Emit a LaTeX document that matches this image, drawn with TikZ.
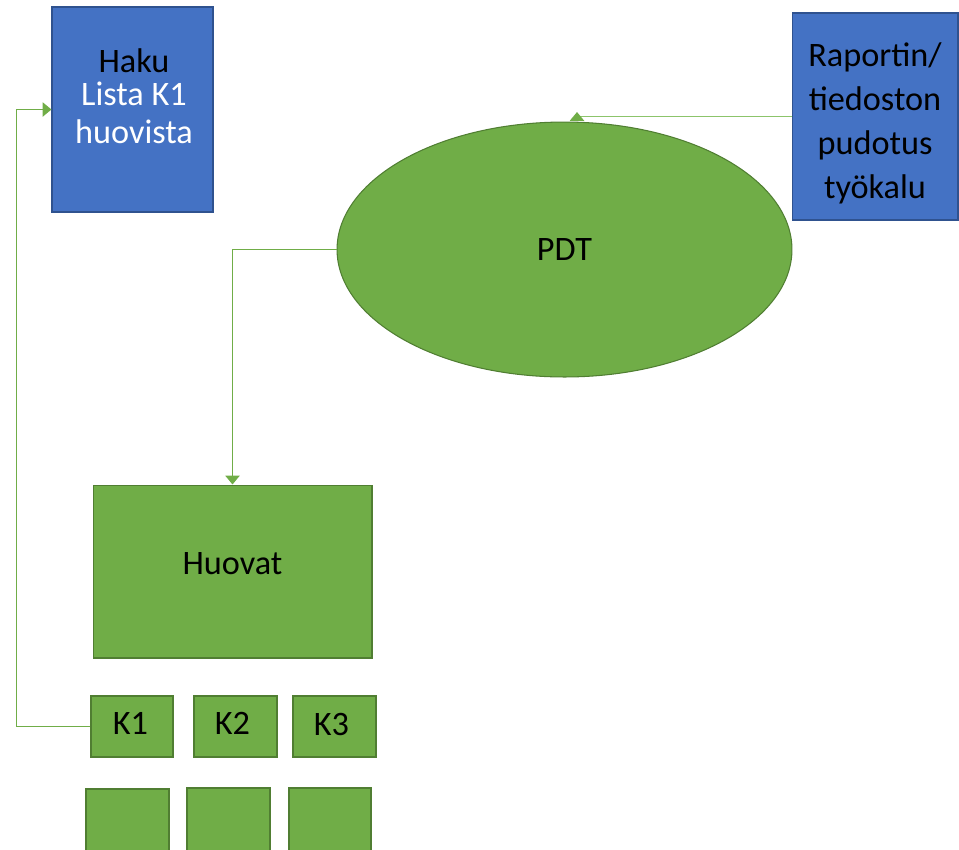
\documentclass[tikz,border=0pt]{standalone}
\usepackage{fontspec}
\setmainfont{Carlito}
\usetikzlibrary{arrows.meta,shapes.geometric}

\definecolor{boxblue}{HTML}{4472C4}
\definecolor{boxblueline}{HTML}{2F528F}
\definecolor{boxgreen}{HTML}{70AD47}
\definecolor{boxgreenline}{HTML}{507E32}
\definecolor{wiregreen}{HTML}{8CC46B}

\tikzset{
    bluebox/.style={draw=boxblueline, line width=0.6pt, fill=boxblue, rectangle, inner sep=0pt},
    greenbox/.style={draw=boxgreenline, line width=0.6pt, fill=boxgreen, rectangle, inner sep=0pt},
    wire/.style={draw=wiregreen, line width=1pt},
    link/.style={wire, -{Triangle[width=8pt,length=5pt]}, color=boxgreen}
}

\begin{document}
\begin{tikzpicture}[x=0.02cm, y=-0.02cm, font=\fontsize{19.5}{23.8}\selectfont]
        \clip (0,0) rectangle (959,849);
        \useasboundingbox (0,0) rectangle (959,849);

        % search box
        \node[bluebox, minimum width=3.22cm, minimum height=4.10cm] (haku) at (132.5,109.5) {};
        \node[align=center, text=white] (hakutext) at (134,96) {\textcolor{black}{Haku}\\[-5pt]Lista K1\\[-2pt]huovista};

        % drop tool box
        \node[bluebox, minimum width=3.32cm, minimum height=4.14cm,
              label={[yshift=-0.13cm, align=center, font=\fontsize{19.5}{25}\selectfont]center:Raportin/\\tiedoston\\pudotus\\työkalu}] (raportin) at (875,116.5) {};

        % central ellipse
        \node[greenbox, ellipse, minimum width=9.10cm, minimum height=5.10cm] (pdt) at (564.5,249.5) {PDT};

        % felts and their parts
        \node[greenbox, minimum width=5.58cm, minimum height=3.46cm, label={[yshift=0.16cm]center:Huovat}] (huovat) at (232.5,571.5) {};
        \node[greenbox, minimum width=1.64cm, minimum height=1.22cm, label={[xshift=-0.03cm, yshift=0.06cm]center:K1}] (k1) at (132,726.5) {};
        \node[greenbox, minimum width=1.66cm, minimum height=1.22cm, label={[xshift=-0.06cm, yshift=0.06cm]center:K2}] (k2) at (235.5,726.5) {};
        \node[greenbox, minimum width=1.66cm, minimum height=1.22cm, label={[xshift=-0.06cm, yshift=0.04cm]center:K3}] (k3) at (334.5,726.5) {};
        \node[greenbox, minimum width=1.66cm, minimum height=1.5cm] (b1) at (127.5,826.5) {};
        \node[greenbox, minimum width=1.66cm, minimum height=1.5cm] (b2) at (228.5,825.5) {};
        \node[greenbox, minimum width=1.64cm, minimum height=1.5cm] (b3) at (330,825.5) {};

        % connectors
        \coordinate (dropbase) at (577,121);
        \coordinate (droptip) at (577,112);
        \draw[wire] (raportin.west) -- (raportin.west -| droptip);
        \draw[link] (dropbase) -- (droptip);
        \draw[link] (pdt.west) -| (huovat.north);
        \draw[link] (k1.west) -- ++(-74,0) |- (haku.west);
    \end{tikzpicture}
\end{document}
